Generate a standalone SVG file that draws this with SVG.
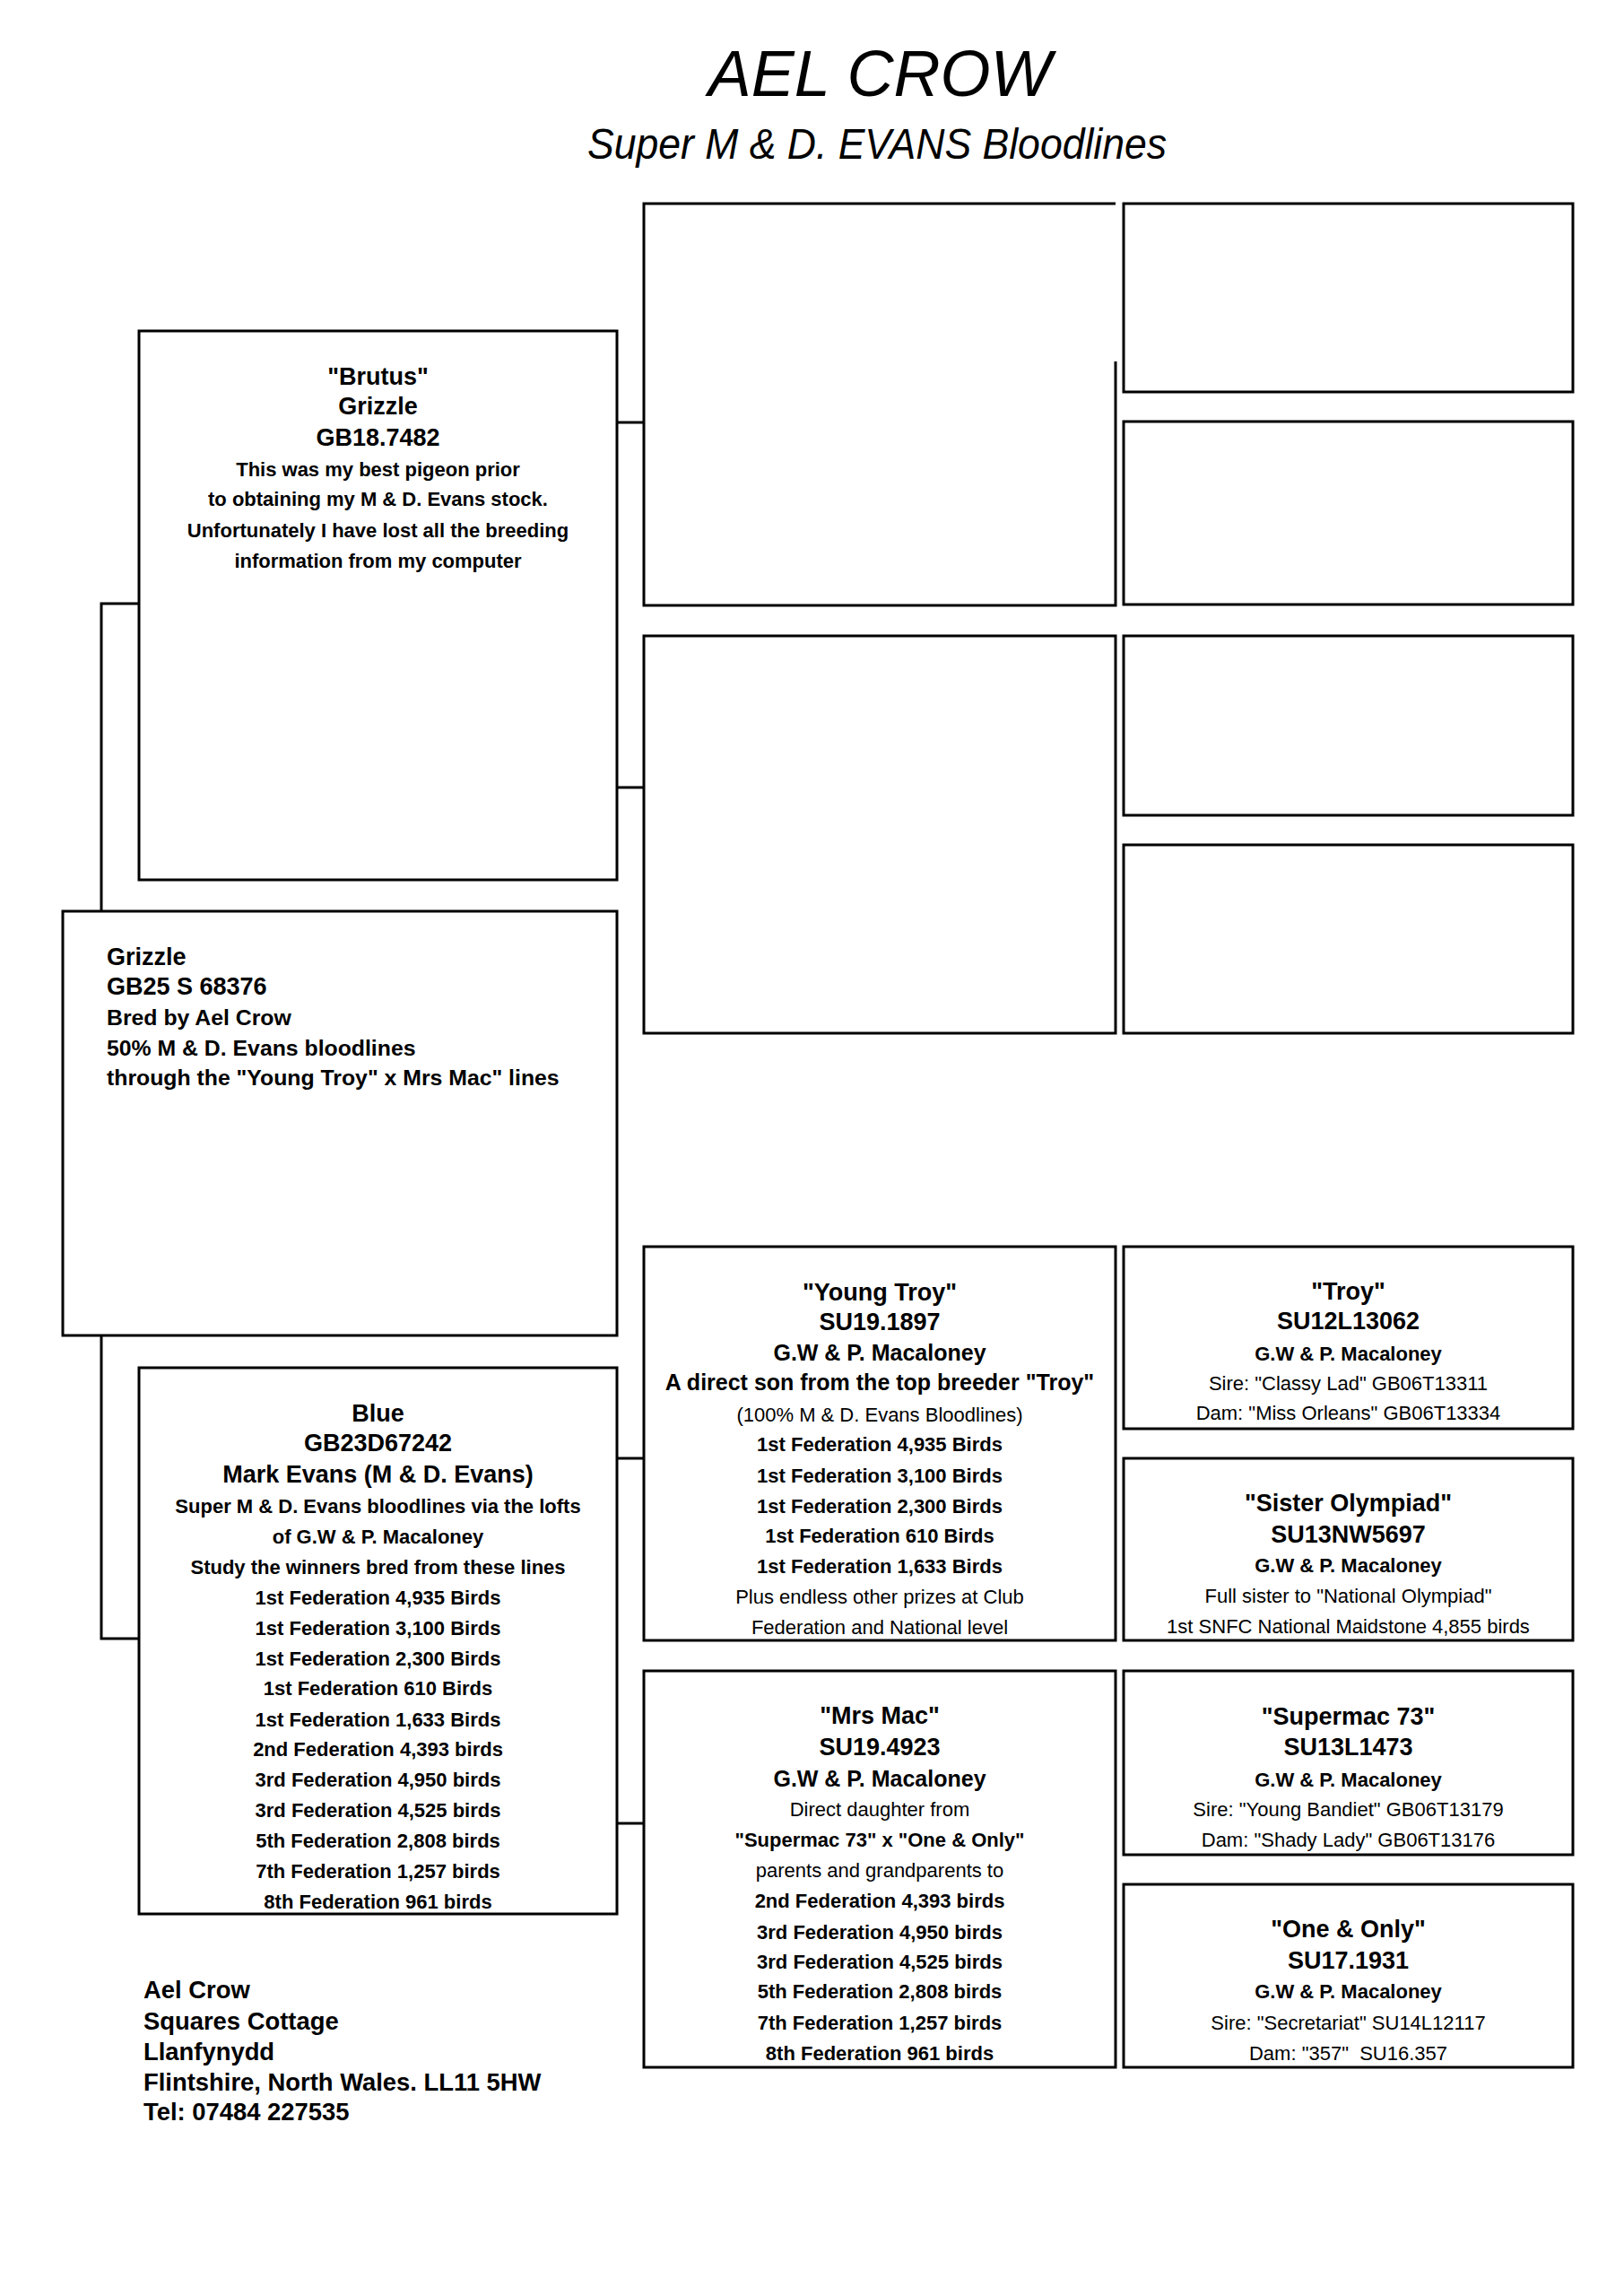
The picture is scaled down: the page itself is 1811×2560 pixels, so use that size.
<svg xmlns="http://www.w3.org/2000/svg" width="1811" height="2560" viewBox="0 0 1811 2560">
<style>
.bx{fill:#fff;stroke:#000;stroke-width:3}
.cn{fill:none;stroke:#000;stroke-width:3}
text{font-family:"Liberation Sans",Arial,sans-serif;fill:#000}
.c{text-anchor:middle}
.h{font-size:27px;font-weight:bold}
.m{font-size:25px;font-weight:bold}
.s{font-size:22px;font-weight:bold}
.r{font-size:22px;font-weight:normal}
.a{font-size:24.8px;font-weight:bold}
.ad{font-size:27.4px;font-weight:bold}
.ti{font-style:italic;font-weight:normal;text-anchor:middle}
</style>
<rect width="1811" height="2560" fill="#fff"/>
<g id="title">
<text class="ti" x="981" y="107" font-size="72">AEL CROW</text>
<text class="ti" x="978" y="177" font-size="49" textLength="646" lengthAdjust="spacingAndGlyphs">Super M &amp; D. EVANS Bloodlines</text>
</g>
<g id="connectors">
<path class="cn" d="M688,471 H718"/>
<path class="cn" d="M688,878 H718"/>
<path class="cn" d="M113,1016 V673 H155"/>
<path class="cn" d="M113,1489 V1827 H155"/>
<path class="cn" d="M688,1626 H718"/>
<path class="cn" d="M688,2033 H718"/>
</g>
<g id="box-a"><path class="bx" d="M1244,403 V675 H718 V227 H1244"/></g>
<g id="box-b"><rect class="bx" x="1253" y="227" width="501" height="210"/></g>
<g id="box-c"><rect class="bx" x="1253" y="470" width="501" height="204"/></g>
<g id="box-d"><rect class="bx" x="718" y="709" width="526" height="443"/></g>
<g id="box-e"><rect class="bx" x="1253" y="709" width="501" height="200"/></g>
<g id="box-f"><rect class="bx" x="1253" y="942" width="501" height="210"/></g>
<g id="brutus">
<rect class="bx" x="155" y="369" width="533" height="612"/>
<text class="c h" x="421.5" y="429">"Brutus"</text>
<text class="c h" x="421.5" y="462">Grizzle</text>
<text class="c h" x="421.5" y="497">GB18.7482</text>
<text class="c s" x="421.5" y="531">This was my best pigeon prior</text>
<text class="c s" x="421.5" y="564">to obtaining my M &amp; D. Evans stock.</text>
<text class="c s" x="421.5" y="599">Unfortunately I have lost all the breeding</text>
<text class="c s" x="421.5" y="633">information from my computer</text>
</g>
<g id="grizzle">
<rect class="bx" x="70" y="1016" width="618" height="473"/>
<text class="h" x="119" y="1076">Grizzle</text>
<text class="h" x="119" y="1109">GB25 S 68376</text>
<text class="a" x="119" y="1143">Bred by Ael Crow</text>
<text class="a" x="119" y="1177">50% M &amp; D. Evans bloodlines</text>
<text class="a" x="119" y="1210">through the "Young Troy" x Mrs Mac" lines</text>
</g>
<g id="blue">
<rect class="bx" x="155" y="1525" width="533" height="609"/>
<text class="c h" x="421.5" y="1585">Blue</text>
<text class="c h" x="421.5" y="1618">GB23D67242</text>
<text class="c h" x="421.5" y="1653">Mark Evans (M &amp; D. Evans)</text>
<text class="c s" x="421.5" y="1687">Super M &amp; D. Evans bloodlines via the lofts</text>
<text class="c s" x="421.5" y="1721">of G.W &amp; P. Macaloney</text>
<text class="c s" x="421.5" y="1755">Study the winners bred from these lines</text>
<text class="c s" x="421.5" y="1789">1st Federation 4,935 Birds</text>
<text class="c s" x="421.5" y="1823">1st Federation 3,100 Birds</text>
<text class="c s" x="421.5" y="1857">1st Federation 2,300 Birds</text>
<text class="c s" x="421.5" y="1890">1st Federation 610 Birds</text>
<text class="c s" x="421.5" y="1925">1st Federation 1,633 Birds</text>
<text class="c s" x="421.5" y="1958">2nd Federation 4,393 birds</text>
<text class="c s" x="421.5" y="1992">3rd Federation 4,950 birds</text>
<text class="c s" x="421.5" y="2026">3rd Federation 4,525 birds</text>
<text class="c s" x="421.5" y="2060">5th Federation 2,808 birds</text>
<text class="c s" x="421.5" y="2094">7th Federation 1,257 birds</text>
<text class="c s" x="421.5" y="2128">8th Federation 961 birds</text>
</g>
<g id="young-troy">
<rect class="bx" x="718" y="1390" width="526" height="439"/>
<text class="c h" x="981" y="1450">"Young Troy"</text>
<text class="c h" x="981" y="1483">SU19.1897</text>
<text class="c m" x="981" y="1517">G.W &amp; P. Macaloney</text>
<text class="c m" x="981" y="1550">A direct son from the top breeder "Troy"</text>
<text class="c r" x="981" y="1585">(100% M &amp; D. Evans Bloodlines)</text>
<text class="c s" x="981" y="1618">1st Federation 4,935 Birds</text>
<text class="c s" x="981" y="1653">1st Federation 3,100 Birds</text>
<text class="c s" x="981" y="1687">1st Federation 2,300 Birds</text>
<text class="c s" x="981" y="1720">1st Federation 610 Birds</text>
<text class="c s" x="981" y="1754">1st Federation 1,633 Birds</text>
<text class="c r" x="981" y="1788">Plus endless other prizes at Club</text>
<text class="c r" x="981" y="1822">Federation and National level</text>
</g>
<g id="troy">
<rect class="bx" x="1253" y="1390" width="501" height="203"/>
<text class="c h" x="1503.5" y="1449">"Troy"</text>
<text class="c h" x="1503.5" y="1482">SU12L13062</text>
<text class="c s" x="1503.5" y="1517">G.W &amp; P. Macaloney</text>
<text class="c r" x="1503.5" y="1550">Sire: "Classy Lad" GB06T13311</text>
<text class="c r" x="1503.5" y="1583">Dam: "Miss Orleans" GB06T13334</text>
</g>
<g id="sister-olympiad">
<rect class="bx" x="1253" y="1626" width="501" height="203"/>
<text class="c h" x="1503.5" y="1685">"Sister Olympiad"</text>
<text class="c h" x="1503.5" y="1720">SU13NW5697</text>
<text class="c s" x="1503.5" y="1753">G.W &amp; P. Macaloney</text>
<text class="c r" x="1503.5" y="1787">Full sister to "National Olympiad"</text>
<text class="c r" x="1503.5" y="1821">1st SNFC National Maidstone 4,855 birds</text>
</g>
<g id="mrs-mac">
<rect class="bx" x="718" y="1863" width="526" height="442"/>
<text class="c h" x="981" y="1922">"Mrs Mac"</text>
<text class="c h" x="981" y="1957">SU19.4923</text>
<text class="c m" x="981" y="1992">G.W &amp; P. Macaloney</text>
<text class="c r" x="981" y="2025">Direct daughter from</text>
<text class="c s" x="981" y="2059">"Supermac 73" x "One &amp; Only"</text>
<text class="c r" x="981" y="2093">parents and grandparents to</text>
<text class="c s" x="981" y="2127">2nd Federation 4,393 birds</text>
<text class="c s" x="981" y="2162">3rd Federation 4,950 birds</text>
<text class="c s" x="981" y="2195">3rd Federation 4,525 birds</text>
<text class="c s" x="981" y="2228">5th Federation 2,808 birds</text>
<text class="c s" x="981" y="2263">7th Federation 1,257 birds</text>
<text class="c s" x="981" y="2297">8th Federation 961 birds</text>
</g>
<g id="supermac-73">
<rect class="bx" x="1253" y="1863" width="501" height="205"/>
<text class="c h" x="1503.5" y="1923">"Supermac 73"</text>
<text class="c h" x="1503.5" y="1957">SU13L1473</text>
<text class="c s" x="1503.5" y="1992">G.W &amp; P. Macaloney</text>
<text class="c r" x="1503.5" y="2025">Sire: "Young Bandiet" GB06T13179</text>
<text class="c r" x="1503.5" y="2059">Dam: "Shady Lady" GB06T13176</text>
</g>
<g id="one-and-only">
<rect class="bx" x="1253" y="2101" width="501" height="204"/>
<text class="c h" x="1503.5" y="2160">"One &amp; Only"</text>
<text class="c h" x="1503.5" y="2195">SU17.1931</text>
<text class="c s" x="1503.5" y="2228">G.W &amp; P. Macaloney</text>
<text class="c r" x="1503.5" y="2263">Sire: "Secretariat" SU14L12117</text>
<text class="c r" x="1503.5" y="2297" xml:space="preserve">Dam: "357"  SU16.357</text>
</g>
<g id="address">
<text class="ad" x="160" y="2228">Ael Crow</text>
<text class="ad" x="160" y="2263">Squares Cottage</text>
<text class="ad" x="160" y="2297">Llanfynydd</text>
<text class="ad" x="160" y="2331">Flintshire, North Wales. LL11 5HW</text>
<text class="ad" x="160" y="2364">Tel: 07484 227535</text>
</g>
</svg>
